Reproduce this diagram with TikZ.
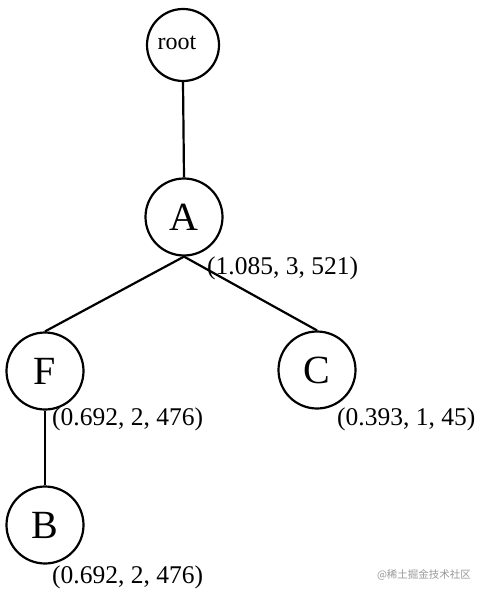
\documentclass[tikz,border=0pt]{standalone}
\usepackage{fontspec}
\setmainfont{Liberation Serif}
\newfontfamily\cjkfont{Noto Sans CJK SC}
\begin{document}
\begin{tikzpicture}[x=1pt,y=-1pt,
  treenode/.style={circle,draw=black,line width=2.2pt,fill=white,inner sep=0pt},
  conn/.style={line width=2.2pt},
  info/.style={font=\fontsize{25.5}{28}\selectfont,inner sep=0pt,anchor=west}]
\useasboundingbox (0,0) rectangle (485,596);
\node[treenode,minimum size=72pt] (root) at (183,45) {};
\node[font=\fontsize{24}{26}\selectfont] (roottext) at (177,43) {root};
\node[treenode,minimum size=77pt,font=\fontsize{40}{42}\selectfont] (A) at (184,217) {A};
\node[treenode,minimum size=77pt,font=\fontsize{40}{42}\selectfont] (F) at (45,371) {F};
\node[treenode,minimum size=77pt,font=\fontsize{40}{42}\selectfont] (C) at (317,370) {C};
\node[treenode,minimum size=77pt,font=\fontsize{40}{42}\selectfont] (B) at (45,525) {B};
\draw[conn] (root.south) -- (A.north);
\draw[conn] (A.south) -- (F.north);
\draw[conn] (A.south) -- (C.north);
\draw[conn] (F.south) -- (B.north);
\node[info] (la) at (207,268) {(1.085, 3, 521)};
\node[info] (lf) at (52,419) {(0.692, 2, 476)};
\node[info] (lc) at (337,419) {(0.393, 1, 45)};
\node[info] (lb) at (52,577) {(0.692, 2, 476)};
\node[font=\cjkfont\fontsize{10.5}{12}\selectfont,text=black!40,inner sep=0pt] (wm) at (424,575) {@稀土掘金技术社区};
\end{tikzpicture}
\end{document}
